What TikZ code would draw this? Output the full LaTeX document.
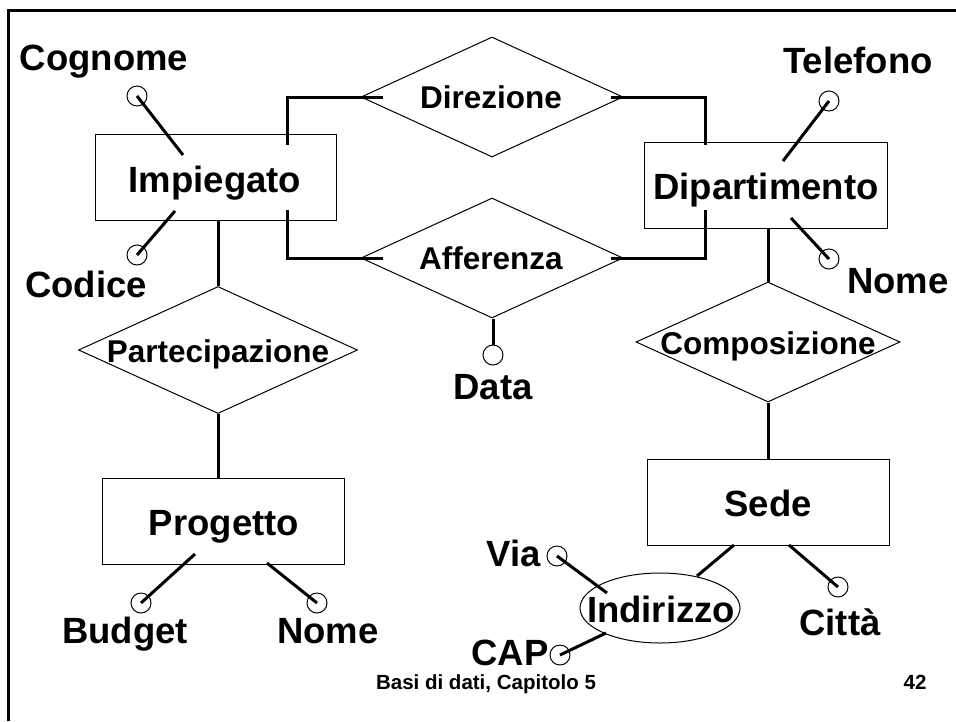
\documentclass[tikz,border=0pt]{standalone}
\usepackage{fontspec}
\setmainfont{Liberation Sans}
\usetikzlibrary{shapes.geometric,calc}
\tikzset{
  ent/.style={draw, line width=1pt, rectangle, inner sep=0pt},
  rel/.style={draw, line width=1pt, diamond, inner sep=0pt},
  conn/.style={line width=3pt},
  attr/.style={draw, circle, line width=1pt, minimum size=20pt, inner sep=0pt},
  big/.style={font=\fontsize{36.5}{40}\selectfont\bfseries, inner sep=0pt, anchor=base},
  mid/.style={font=\fontsize{31.5}{34}\selectfont\bfseries, inner sep=0pt, anchor=base},
  foot/.style={font=\fontsize{20.5}{23}\selectfont\bfseries, inner sep=0pt, anchor=base},
}
\begin{document}
\begin{tikzpicture}[x=1pt,y=-1pt]
\useasboundingbox (0,0) rectangle (956,721);
% frame
\coordinate (fA) at (8,721);
\coordinate (fB) at (8,10);
\coordinate (fC) at (956,10);
\draw[line width=3pt] (fA) -- (fB) -- (fC);

% entities
\node[ent, minimum width=241pt, minimum height=86pt] (imp) at (215.5,177) {};
\node[ent, minimum width=243pt, minimum height=86pt] (dip) at (765.5,185) {};
\node[ent, minimum width=242pt, minimum height=86pt] (pro) at (223,521) {};
\node[ent, minimum width=242pt, minimum height=86pt] (sed) at (768,502) {};
\node[draw, ellipse, line width=1pt, minimum width=160pt, minimum height=70pt, inner sep=0pt] (ind) at (660,608) {};

% relationships
\node[rel, minimum width=262pt, minimum height=120pt] (dir) at (492,97) {};
\node[rel, minimum width=262pt, minimum height=120pt] (aff) at (492,258) {};
\node[rel, minimum width=279pt, minimum height=127pt] (par) at (218,350) {};
\node[rel, minimum width=264pt, minimum height=120pt] (com) at (768,342) {};

% labels
\node[big] (timp) at (215,192) {Impiegato};
\node[big] (tdip) at (766,199) {Dipartimento};
\node[big] (tpro) at (224,535) {Progetto};
\node[big] (tsed) at (768,516) {Sede};
\node[big] (tind) at (661,622) {Indirizzo};
\node[mid] (tdir) at (491,108) {Direzione};
\node[mid] (taff) at (491,269) {Afferenza};
\node[mid] (tpar) at (218,362) {Partecipazione};
\node[mid] (tcom) at (768,354) {Composizione};

% attribute circles
\node[attr] (cCog) at (137,96) {};
\node[attr] (cCod) at (137,255) {};
\node[attr] (cTel) at (829,101) {};
\node[attr] (cNoD) at (829,259) {};
\node[attr] (cDat) at (493,355) {};
\node[attr] (cBud) at (141,603) {};
\node[attr] (cNoP) at (317,603) {};
\node[attr] (cCit) at (838,587) {};
\node[attr] (cVia) at (557,556) {};
\node[attr] (cCap) at (560,655) {};

% attribute names
\node[big] (aCog) at (104,70) {Cognome};
\node[big] (aCod) at (86,297) {Codice};
\node[big] (aTel) at (858,73) {Telefono};
\node[big] (aNoD) at (898,293) {Nome};
\node[big] (aDat) at (493,399) {Data};
\node[big] (aBud) at (125,643) {Budget};
\node[big] (aNoP) at (328,643) {Nome};
\node[big] (aCit) at (840,635) {Città};
\node[big] (aVia) at (514,566) {Via};
\node[big] (aCap) at (510,665) {CAP};

% footer
\node[foot] (fleft) at (486,689) {Basi di dati, Capitolo 5};
\node[foot] (fright) at (915,689) {42};

% connector end points
\coordinate (impDir) at (287,145);
\coordinate (impAff) at (287,210);
\coordinate (dipDir) at (705,145);
\coordinate (dipAff) at (705,210);
\coordinate (impCog) at (183,155);
\coordinate (impCod) at (175,211);
\coordinate (dipTel) at (783,161);
\coordinate (dipNoD) at (791,218);
\coordinate (proBud) at (195,554);
\coordinate (proNoP) at (267,563);
\coordinate (sedInd) at (734,545);
\coordinate (indSed) at (697,576);
\coordinate (sedCit) at (789,545);
\coordinate (indVia) at (607,593);
\coordinate (indCap) at (606,633);

% relationship connectors
\draw[conn] (impDir) |- ($(dir.west)+(22,0)$);
\draw[conn] (dipDir) |- ($(dir.east)+(-13,0)$);
\draw[conn] (impAff) |- ($(aff.west)+(22,0)$);
\draw[conn] (dipAff) |- ($(aff.east)+(-13,0)$);
\draw[conn] (imp.south -| par.north) -- (par.north);
\draw[conn] (par.south) -- (pro.north -| par.south);
\draw[conn] (dip.south -| com.north) -- (com.north);
\draw[conn] (com.south) -- (sed.north -| com.south);

% attribute connectors
\draw[conn] (cCog.center) -- (impCog);
\draw[conn] (cCod.center) -- (impCod);
\draw[conn] (cTel.center) -- (dipTel);
\draw[conn] (cNoD.center) -- (dipNoD);
\draw[conn] (aff.south -| cDat.north) -- (cDat.north);
\draw[conn] (cBud.center) -- (proBud);
\draw[conn] (cNoP.center) -- (proNoP);
\draw[conn] (sedInd) -- (indSed);
\draw[conn] (cCit.center) -- (sedCit);
\draw[conn] (cVia.center) -- (indVia);
\draw[conn] (cCap.center) -- (indCap);
\end{tikzpicture}
\end{document}
